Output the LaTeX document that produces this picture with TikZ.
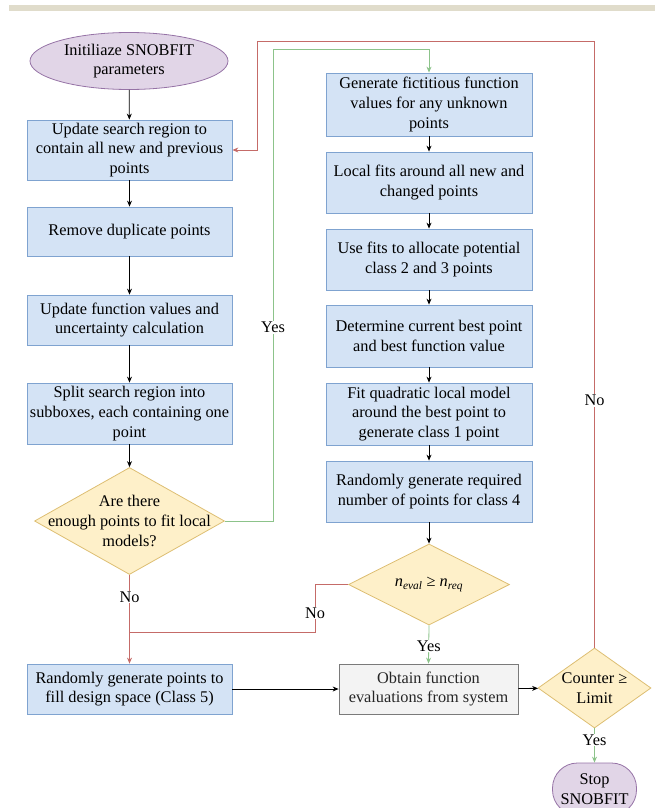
\documentclass[tikz,border=0pt]{standalone}
\usepackage{fontspec}
\setmainfont{Liberation Serif}
\usetikzlibrary{shapes.geometric,arrows.meta}
\definecolor{boxfill}{HTML}{D4E3F5}
\definecolor{boxline}{HTML}{7FA3D0}
\definecolor{decfill}{HTML}{FEF0C9}
\definecolor{decline}{HTML}{DDBE72}
\definecolor{termfill}{HTML}{E1D5E7}
\definecolor{termline}{HTML}{9673A6}
\definecolor{evalfill}{HTML}{F3F3F3}
\definecolor{evalline}{HTML}{7A7A7A}
\definecolor{noclr}{HTML}{C56B68}
\definecolor{yesclr}{HTML}{8CC38A}
\definecolor{band}{HTML}{E0DCCB}
\tikzstyle{txt}=[font=\fontsize{16.3}{19.6}\selectfont, align=center, inner sep=0pt]
\tikzstyle{process}=[txt, rectangle, draw=boxline, fill=boxfill, minimum width=205pt, line width=0.8pt]
\tikzstyle{evalbox}=[txt, rectangle, draw=evalline, fill=evalfill, text=black!85, minimum width=179pt, minimum height=50pt, line width=0.8pt]
\tikzstyle{decision}=[diamond, draw=decline, fill=decfill, inner sep=0pt, line width=0.8pt]
\tikzstyle{terminal}=[txt, ellipse, draw=termline, fill=termfill, line width=0.8pt]
\tikzstyle{edge}=[draw=black, line width=0.8pt, -{Stealth[length=6pt,width=5pt]}]
\tikzstyle{noline}=[draw=noclr, line width=0.8pt]
\tikzstyle{yesline}=[draw=yesclr, line width=0.8pt]
\tikzstyle{tip}=[-{Stealth[length=6pt,width=5pt]}]
\tikzstyle{lbl}=[txt, fill=white, inner sep=1pt]
\begin{document}
\begin{tikzpicture}[x=1pt, y=-1pt]
\useasboundingbox (0,0) rectangle (655,808);
\fill[band] (9,5) rectangle (655,11);
\node[terminal, minimum width=198pt, minimum height=57pt] (init) at (129,61) {Initiliaze SNOBFIT\\parameters};
\node[process, minimum height=60pt] (region) at (129.5,150) {Update search region to\\contain all new and previous\\points};
\node[process, minimum height=49pt] (dup) at (129.5,231.5) {Remove duplicate points};
\node[process, minimum height=50pt] (fvals) at (129.5,320) {Update function values and\\uncertainty calculation};
\node[process, minimum height=61pt] (split) at (129.5,413.5) {Split search region into\\subboxes, each containing one\\point};
\node[decision, minimum width=190pt, minimum height=107pt, label={[txt]center:Are there\\enough points to fit local\\models?}] (enough) at (129.5,521) {};
\node[process, minimum height=50pt] (class5) at (129.5,689) {Randomly generate points to\\fill design space (Class 5)};
\node[process, minimum width=206pt, minimum height=63pt] (fict) at (429,104.5) {Generate fictitious function\\values for any unknown\\points};
\node[process, minimum width=206pt, minimum height=61pt] (lfits) at (429,182.5) {Local fits around all new and\\changed points};
\node[process, minimum width=206pt, minimum height=61pt] (alloc) at (429,259.5) {Use fits to allocate potential\\class 2 and 3 points};
\node[process, minimum width=206pt, minimum height=62pt] (best) at (429,336) {Determine current best point\\and best function value};
\node[process, minimum width=206pt, minimum height=62pt] (quad) at (429,414) {Fit quadratic local model\\around the best point to\\generate class 1 point};
\node[process, minimum width=206pt, minimum height=61pt] (class4) at (429,491.5) {Randomly generate required\\number of points for class 4};
\node[decision, minimum width=161pt, minimum height=81pt, label={[txt]center:\textit{n}\textsubscript{\textit{eval}} ≥ \textit{n}\textsubscript{\textit{req}}}] (neval) at (429,584.5) {};
\node[evalbox] (obtain) at (428.5,689) {Obtain function\\evaluations from system};
\node[decision, minimum width=113pt, minimum height=80pt, label={[txt]center:Counter ≥\\Limit}] (counter) at (594.5,688) {};
\node[txt, rectangle, rounded corners=25pt, draw=termline, fill=termfill, line width=0.8pt, minimum width=84pt, minimum height=52pt] (stop) at (594.5,789) {Stop\\SNOBFIT};
\coordinate (gtop) at (273,49);
\coordinate (rtop) at (257,41);
\coordinate (nobend) at (315,632);
\coordinate (nojoin) at (129.5,632);
\draw[edge] (init) -- (region);
\draw[edge] (region) -- (dup);
\draw[edge] (dup) -- (fvals);
\draw[edge] (fvals) -- (split);
\draw[edge] (split) -- (enough);
\draw[edge] (fict) -- (lfits);
\draw[edge] (lfits) -- (alloc);
\draw[edge] (alloc) -- (best);
\draw[edge] (best) -- (quad);
\draw[edge] (quad) -- (class4);
\draw[edge] (class4) -- (neval);
\draw[edge] (class5) -- (obtain);
\draw[edge] (obtain) -- (counter);
\draw[yesline, tip] (enough.east) -| node[lbl, pos=0.705]{Yes} (gtop) -| (fict.north);
\draw[noline, tip] (enough.south) -- node[lbl, pos=0.25]{No} (class5.north);
\draw[noline] (neval.west) -| node[lbl, pos=0.8]{No} (nobend) -- (nojoin);
\draw[yesline, tip] (neval.south) -- node[lbl, pos=0.54]{Yes} (obtain.north);
\draw[noline, tip] (counter.north) |- node[lbl, pos=0.204]{No} (rtop) |- (region.east);
\draw[yesline, tip] (counter.south) -- node[lbl, pos=0.34]{Yes} (stop.north);
\end{tikzpicture}
\end{document}
